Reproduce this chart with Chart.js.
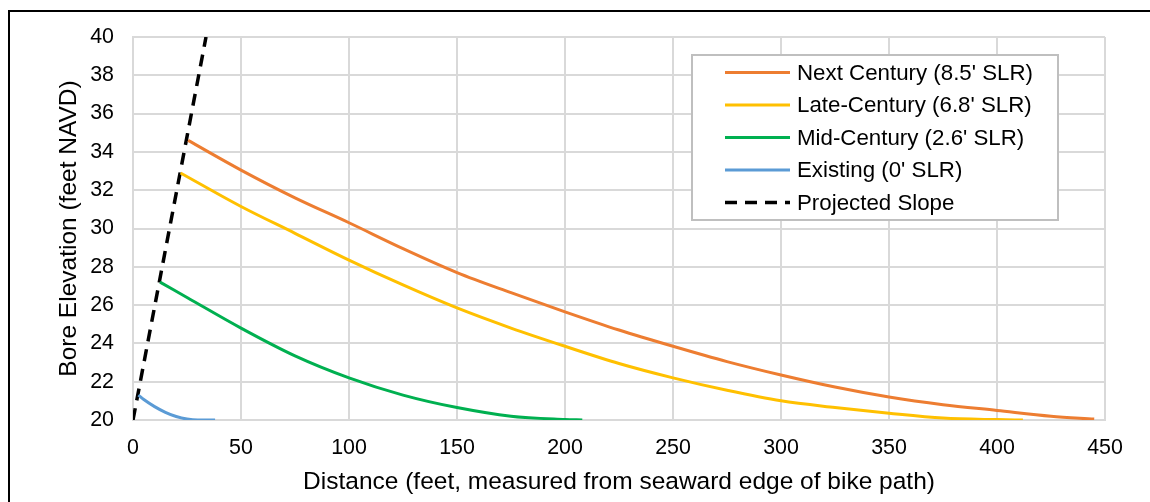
<!DOCTYPE html>
<html>
<head>
<meta charset="utf-8">
<script src="https://cdn.jsdelivr.net/npm/chart.js@4"></script>
<style>
  html, body { margin: 0; padding: 0; background: #fff; }
  #wrap { position: relative; width: 1150px; height: 502px; overflow: hidden; }
  #frame { position: absolute; left: 8px; top: 10px; width: 1200px; height: 600px; border: 2px solid #000; pointer-events: none; }
</style>
</head>
<body>
<div id="wrap">
  <canvas id="myChart" width="1150" height="502"></canvas>
  <div id="frame"></div>
</div>
<script>
"use strict";

const xTicks = [0, 50, 100, 150, 200, 250, 300, 350, 400, 450];
const yTicks = [20, 22, 24, 26, 28, 30, 32, 34, 36, 38, 40];

const nextX = [25.5, 50, 75, 100, 125, 150, 175, 200, 225, 250, 275, 300, 325, 350, 375, 400, 425, 445];
const nextY = [34.6, 33.05, 31.6, 30.3, 28.95, 27.7, 26.65, 25.65, 24.7, 23.85, 23.05, 22.35, 21.72, 21.2, 20.8, 20.5, 20.2, 20.05];

const lateX = [22, 50, 75, 100, 125, 150, 175, 200, 225, 250, 275, 300, 325, 350, 375, 400, 412];
const lateY = [32.9, 31.15, 29.75, 28.35, 27.05, 25.85, 24.8, 23.85, 22.95, 22.2, 21.55, 21.0, 20.65, 20.35, 20.1, 20.02, 20.0];

const midX = [12.5, 25, 50, 75, 100, 125, 150, 175, 200, 208];
const midY = [27.2, 26.4, 24.8, 23.35, 22.2, 21.3, 20.65, 20.2, 20.03, 20.0];

const existX = [2.5, 5, 10, 15, 20, 25, 30, 38];
const existY = [21.3, 21.07, 20.7, 20.4, 20.18, 20.05, 20.0, 20.0];

const slopeX = [0, 33.8];
const slopeY = [20, 40];

const FONT = "'Liberation Sans', Arial, sans-serif";

function pts(xs, ys) {
  let out = [];
  for (let i = 0; i < xs.length; i++) {
    out.push({ x: xs[i], y: ys[i] });
  }
  return out;
}

function series(label, xs, ys, color, dash) {
  return {
    label: label,
    data: pts(xs, ys),
    borderColor: color,
    backgroundColor: color,
    borderWidth: dash ? 3.5 : 3,
    borderDash: dash || [],
    pointRadius: 0,
    cubicInterpolationMode: 'monotone',
    fill: false,
  };
}

// legend box drawn inside the plot, like the Excel one
const boxLegend = {
  id: 'boxLegend',
  afterDraw(chart) {
    const ctx = chart.ctx;
    const left = 692, top = 55, w = 366, h = 165;
    ctx.save();
    ctx.fillStyle = '#fff';
    ctx.fillRect(left, top, w, h);
    ctx.strokeStyle = '#bfbfbf';
    ctx.lineWidth = 2;
    ctx.strokeRect(left, top, w, h);
    ctx.font = '22.3px ' + FONT;
    ctx.textBaseline = 'middle';
    ctx.fillStyle = '#000';
    chart.data.datasets.forEach(function (ds, i) {
      const y = 72.5 + i * 32.5;
      ctx.beginPath();
      ctx.strokeStyle = ds.borderColor;
      ctx.lineWidth = ds.borderWidth;
      ctx.setLineDash(ds.borderDash);
      ctx.moveTo(725, y);
      ctx.lineTo(790, y);
      ctx.stroke();
      ctx.setLineDash([]);
      ctx.fillText(ds.label, 797, y + 1);
    });
    ctx.restore();
  }
};

const data = {
  datasets: [
    series("Next Century (8.5' SLR)", nextX, nextY, '#ED7D31'),
    series("Late-Century (6.8' SLR)", lateX, lateY, '#FFC000'),
    series("Mid-Century (2.6' SLR)", midX, midY, '#00B050'),
    series("Existing (0' SLR)", existX, existY, '#5B9BD5'),
    series('Projected Slope', slopeX, slopeY, '#000000', [12, 8]),
  ]
};

const config = {
  type: 'line',
  data: data,
  options: {
    responsive: false,
    animation: false,
    layout: { padding: { top: 37, right: 45, bottom: 0, left: 0 } },
    plugins: {
      legend: { display: false },
      tooltip: { enabled: false },
    },
    scales: {
      x: {
        type: 'linear',
        min: xTicks[0],
        max: xTicks[xTicks.length - 1],
        afterBuildTicks(scale) { scale.ticks = xTicks.map(v => ({ value: v })); },
        afterFit(scale) { scale.height = 82; },
        grid: { color: '#d9d9d9', lineWidth: 2, drawTicks: false },
        border: { color: '#d9d9d9', width: 2 },
        ticks: { color: '#000', padding: 15, font: { family: FONT, size: 21.4 } },
        title: {
          display: true,
          text: 'Distance (feet, measured from seaward edge of bike path)',
          color: '#000',
          font: { family: FONT, size: 24.5 },
          padding: { top: 0, bottom: 5 },
        },
      },
      y: {
        type: 'linear',
        min: yTicks[0],
        max: yTicks[yTicks.length - 1],
        afterBuildTicks(scale) { scale.ticks = yTicks.map(v => ({ value: v })); },
        afterFit(scale) { scale.width = 133; },
        grid: { color: '#d9d9d9', lineWidth: 2, drawTicks: false },
        border: { color: '#d9d9d9', width: 2 },
        ticks: { color: '#000', padding: 19, font: { family: FONT, size: 21.4 } },
        title: {
          display: true,
          text: 'Bore Elevation (feet NAVD)',
          color: '#000',
          font: { family: FONT, size: 24.5 },
          padding: { top: 55, bottom: 0 },
        },
      },
    },
  },
  plugins: [boxLegend],
};

const myChart = new Chart(document.getElementById('myChart'), config);
</script>
</body>
</html>
